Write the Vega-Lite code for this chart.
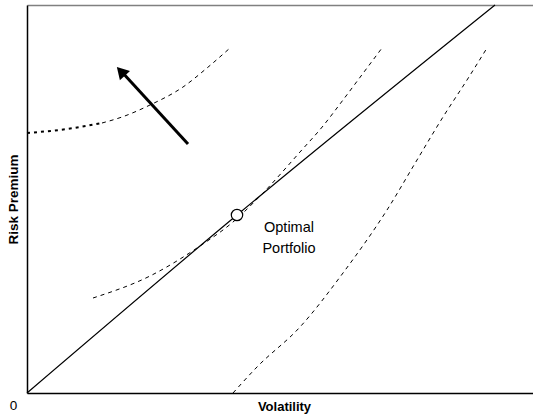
{
  "$schema": "https://vega.github.io/schema/vega-lite/v6.json",
  "width": 506,
  "height": 388,
  "autosize": {"type": "none"},
  "padding": {"left": 27, "top": 5, "right": 0, "bottom": 25},
  "config": {"view": {"stroke": null}, "font": "Liberation Sans"},
  "datasets": {
    "curves": [
      {"series": "cml", "x": 0, "y": 0},
      {"series": "cml", "x": 210, "y": 178},
      {"series": "cml", "x": 468, "y": 388},
      {"series": "u1a", "x": 0, "y": 260},
      {"series": "u1a", "x": 40, "y": 264},
      {"series": "u1a", "x": 75, "y": 270},
      {"series": "u1b", "x": 75, "y": 270},
      {"series": "u1b", "x": 95, "y": 276},
      {"series": "u1b", "x": 123, "y": 288},
      {"series": "u1b", "x": 156, "y": 306},
      {"series": "u1b", "x": 180, "y": 325},
      {"series": "u1b", "x": 203, "y": 345},
      {"series": "u2", "x": 66, "y": 95},
      {"series": "u2", "x": 123, "y": 117},
      {"series": "u2", "x": 173, "y": 147},
      {"series": "u2", "x": 206, "y": 171},
      {"series": "u2", "x": 236, "y": 200},
      {"series": "u2", "x": 273, "y": 241},
      {"series": "u2", "x": 296, "y": 267},
      {"series": "u2", "x": 316, "y": 293},
      {"series": "u2", "x": 340, "y": 325},
      {"series": "u2", "x": 355, "y": 345},
      {"series": "u3", "x": 206, "y": 0},
      {"series": "u3", "x": 230, "y": 26},
      {"series": "u3", "x": 273, "y": 66},
      {"series": "u3", "x": 316, "y": 120},
      {"series": "u3", "x": 360, "y": 183},
      {"series": "u3", "x": 390, "y": 233},
      {"series": "u3", "x": 416, "y": 276},
      {"series": "u3", "x": 440, "y": 313},
      {"series": "u3", "x": 460, "y": 345}
    ],
    "arrow": [{"x": 161, "y": 249, "x2": 94, "y2": 322}],
    "head": [{"x": 93.9, "y": 321.7}],
    "optimal": [{"x": 210, "y": 178}],
    "labels": [
      {"x": 262, "y": 165, "text": "Optimal"},
      {"x": 262, "y": 144, "text": "Portfolio"}
    ]
  },
  "resolve": {"axis": {"x": "independent"}},
  "layer": [
    {
      "data": {"name": "curves"},
      "transform": [{"filter": "datum.series === 'cml'"}],
      "mark": {"type": "line", "color": "black", "strokeWidth": 1.2, "interpolate": "monotone"},
      "encoding": {
        "x": {
          "field": "x", "type": "quantitative",
          "scale": {"domain": [0, 506], "nice": false, "zero": false},
          "axis": {
            "title": "Volatility", "values": [0], "labelOffset": -14, "labelPadding": 5,
            "labelFlush": false, "labelFontSize": 13.5, "labelColor": "black",
            "ticks": false, "grid": false, "domainColor": "black", "domainWidth": 1.5,
            "titleFontSize": 13, "titleFontWeight": "bold", "titleColor": "black",
            "titleX": 257, "titleY": 7, "titleBaseline": "top"
          }
        },
        "y": {
          "field": "y", "type": "quantitative",
          "scale": {"domain": [0, 388], "nice": false, "zero": false},
          "axis": {
            "title": "Risk Premium", "labels": false, "ticks": false, "grid": false,
            "domainColor": "black", "domainWidth": 1.5, "titleFontSize": 13.5,
            "titleFontWeight": "bold", "titleColor": "black", "titlePadding": 7
          }
        },
        "order": {"field": "x", "type": "quantitative"}
      }
    },
    {
      "data": {"name": "curves"},
      "transform": [{"filter": "datum.series === 'u1a'"}],
      "mark": {"type": "line", "color": "black", "strokeWidth": 2, "strokeDash": [3, 4], "interpolate": "monotone"},
      "encoding": {
        "x": {
          "field": "x", "type": "quantitative",
          "axis": {"orient": "top", "labels": false, "ticks": false, "title": null, "grid": false, "domainColor": "#808080", "domainWidth": 1.5}
        },
        "y": {"field": "y", "type": "quantitative"}
      }
    },
    {
      "data": {"name": "curves"},
      "transform": [{"filter": "datum.series === 'u1b' || datum.series === 'u2' || datum.series === 'u3'"}],
      "mark": {"type": "line", "color": "black", "strokeWidth": 1, "strokeDash": [4, 4], "interpolate": "monotone"},
      "encoding": {
        "x": {"field": "x", "type": "quantitative", "axis": null},
        "y": {"field": "y", "type": "quantitative"},
        "detail": {"field": "series"}
      }
    },
    {
      "data": {"name": "arrow"},
      "mark": {"type": "rule", "color": "black", "strokeWidth": 3},
      "encoding": {
        "x": {"field": "x", "type": "quantitative", "axis": null},
        "y": {"field": "y", "type": "quantitative"},
        "x2": {"field": "x2"},
        "y2": {"field": "y2"}
      }
    },
    {
      "data": {"name": "head"},
      "mark": {"type": "point", "shape": "triangle-up", "filled": true, "color": "black", "size": 190, "angle": 317.3, "opacity": 1},
      "encoding": {
        "x": {"field": "x", "type": "quantitative", "axis": null},
        "y": {"field": "y", "type": "quantitative"}
      }
    },
    {
      "data": {"name": "optimal"},
      "mark": {"type": "point", "shape": "circle", "filled": true, "fill": "white", "stroke": "black", "strokeWidth": 1.2, "size": 130, "opacity": 1},
      "encoding": {
        "x": {"field": "x", "type": "quantitative", "axis": null},
        "y": {"field": "y", "type": "quantitative"}
      }
    },
    {
      "data": {"name": "labels"},
      "mark": {"type": "text", "align": "center", "baseline": "middle", "fontSize": 14.5, "color": "black"},
      "encoding": {
        "x": {"field": "x", "type": "quantitative", "axis": null},
        "y": {"field": "y", "type": "quantitative"},
        "text": {"field": "text"}
      }
    }
  ]
}
